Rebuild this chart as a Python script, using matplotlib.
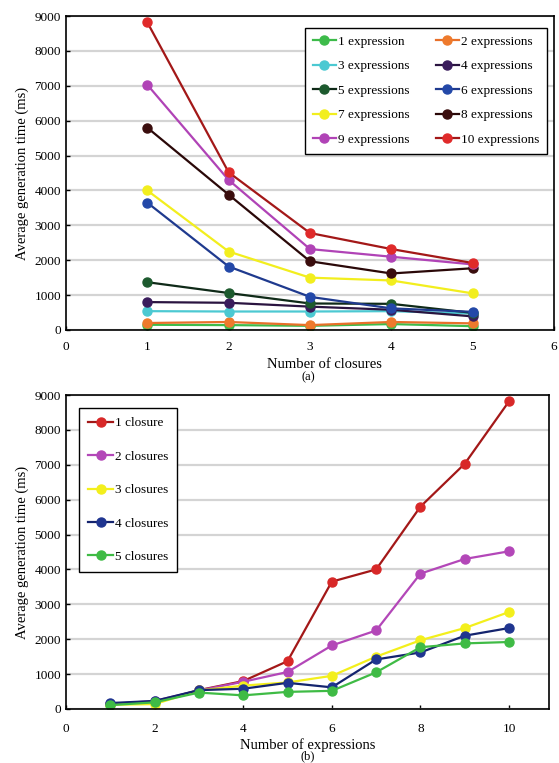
import numpy as np
import matplotlib.pyplot as plt

plt.rcParams['font.family'] = ['Liberation Serif', 'DejaVu Serif']

closures = [1, 2, 3, 4, 5]
expressions = [1, 2, 3, 4, 5, 6, 7, 8, 9, 10]

# average generation time (ms) per number of expressions, for 1..5 closures
expr1 = [150, 140, 120, 170, 110]
expr2 = [200, 230, 140, 230, 190]
expr3 = [540, 530, 530, 540, 470]
expr4 = [800, 780, 670, 580, 390]
expr5 = [1370, 1060, 760, 750, 490]
expr6 = [3650, 1820, 950, 620, 520]
expr7 = [4000, 2250, 1500, 1420, 1050]
expr8 = [5800, 3880, 1970, 1620, 1770]
expr9 = [7030, 4300, 2320, 2100, 1880]
expr10 = [8820, 4520, 2780, 2320, 1920]

top_labels = ["1 expression"] + ["%d expressions" % n for n in expressions[1:]]
top_face = ["#3dbb4a", "#ee7a2c", "#4cc9d2", "#3a1c5c", "#1d5a2e",
            "#2348a8", "#f2ee1e", "#3a0d0d", "#b043b6", "#e02a2a"]
top_line = ["#3dbb4a", "#e8702a", "#4cc9d2", "#2a1440", "#0f2a18",
            "#1f3a8e", "#f2ee1e", "#2a0808", "#b043b6", "#a31818"]

bottom_labels = ["1 closure", "2 closures", "3 closures", "4 closures", "5 closures"]
bottom_face = ["#d82828", "#b347b8", "#f3ef1c", "#1f3590", "#3fbb45"]
bottom_line = ["#a31818", "#b347b8", "#f3ef1c", "#14246e", "#3fbb45"]

series = [expr1, expr2, expr3, expr4, expr5, expr6, expr7, expr8, expr9, expr10]
data = np.array(series)

fig = plt.figure(figsize=(5.59, 7.63), dpi=100)
ax1 = fig.add_axes([0.118, 0.5675, 0.873, 0.4115])
ax2 = fig.add_axes([0.118, 0.0708, 0.864, 0.4115])

for ax in (ax1, ax2):
    ax.set_ylim(0, 9000)
    ax.set_yticks(range(0, 9001, 1000))
    ax.yaxis.grid(True, color="#d4d4d4", linewidth=1.6)
    ax.set_axisbelow(True)
    for s in ax.spines.values():
        s.set_linewidth(1.2)
    ax.tick_params(labelsize=9.5, direction="in", length=3, width=1)
    ax.set_ylabel("Average generation time (ms)", fontsize=10.5, labelpad=4)

ax1.tick_params(axis="x", pad=8)
ax2.tick_params(axis="x", pad=10)

for i in range(10):
    ax1.plot(closures, data[i], color=top_line[i], linewidth=1.6, marker="o",
             markersize=6.5, markerfacecolor=top_face[i], markeredgecolor=top_face[i],
             label=top_labels[i])
ax1.set_xlim(0, 6)
ax1.set_xticks(range(0, 7))
ax1.set_xlabel("Number of closures", fontsize=10.5)
ax1.xaxis.set_label_coords(0.53, -0.089)
order = [0, 2, 4, 6, 8, 1, 3, 5, 7, 9]
h, l = ax1.get_legend_handles_labels()
leg1 = ax1.legend([h[k] for k in order], [l[k] for k in order], ncol=2,
                  loc="upper right", bbox_to_anchor=(0.986, 0.962), fontsize=9.5,
                  frameon=True, fancybox=False, edgecolor="black", framealpha=1,
                  handlelength=1.75, handletextpad=0.15, columnspacing=2.0,
                  labelspacing=0.92, borderpad=0.6, borderaxespad=0)
leg1.get_frame().set_linewidth(1.0)

for j in range(5):
    ax2.plot(expressions, data[:, j], color=bottom_line[j], linewidth=1.6, marker="o",
             markersize=6.5, markerfacecolor=bottom_face[j], markeredgecolor=bottom_face[j],
             label=bottom_labels[j])
ax2.set_xlim(0, 10.9)
ax2.set_xticks(range(0, 11, 2))
ax2.set_xlabel("Number of expressions", fontsize=10.5)
ax2.xaxis.set_label_coords(0.5, -0.092)
leg2 = ax2.legend(loc="upper left", bbox_to_anchor=(0.027, 0.9586), fontsize=9.5,
                  frameon=True, fancybox=False, edgecolor="black", framealpha=1,
                  handlelength=1.9, handletextpad=0.1, labelspacing=1.6,
                  borderpad=0.7, borderaxespad=0)
leg2.get_frame().set_linewidth(1.0)

fig.text(0.551, 0.506, "(a)", ha="center", va="center", fontsize=9)
fig.text(0.551, 0.009, "(b)", ha="center", va="center", fontsize=9)

fig.savefig("out.png", dpi=100)
